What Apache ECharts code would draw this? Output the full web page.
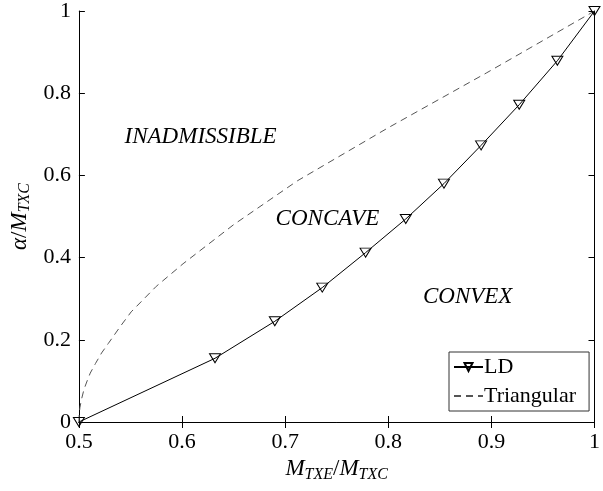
<!DOCTYPE html>
<html>
<head>
<meta charset="utf-8">
<script src="https://cdn.jsdelivr.net/npm/echarts@6/dist/echarts.min.js"></script>
<style>
html,body{margin:0;padding:0;background:#fff;}
#chart{width:603px;height:491px;}
</style>
</head>
<body>
<div id="chart"></div>
<script>
// LD series
var ldX = [0.5, 0.632, 0.690, 0.736, 0.778, 0.817, 0.854, 0.890, 0.927, 0.964, 1.0];
var ldY = [0.0, 0.155, 0.245, 0.327, 0.412, 0.494, 0.580, 0.673, 0.772, 0.879, 1.0];
// Triangular series
var triX = [0.5, 0.5003, 0.501, 0.5025, 0.505, 0.508, 0.511, 0.516, 0.522, 0.5285, 0.54, 0.5507, 0.575, 0.601, 0.65, 0.712, 0.80, 0.895, 1.0];
var triY = [0.0, 0.02, 0.035, 0.055, 0.08, 0.10, 0.119, 0.142, 0.168, 0.191, 0.232, 0.268, 0.33, 0.385, 0.48, 0.587, 0.716, 0.849, 1.0];
var xTicks = [0.5, 0.6, 0.7, 0.8, 0.9, 1];
var yTicks = [0, 0.2, 0.4, 0.6, 0.8, 1];
var regionLabels = ['INADMISSIBLE', 'CONCAVE', 'CONVEX'];
var seriesNames = ['LD', 'Triangular'];

function pairs(xs, ys){ return xs.map(function(x,i){ return [x, ys[i]]; }); }

var FONT = '"Liberation Serif", "Times New Roman", serif';
var chart = echarts.init(document.getElementById('chart'), null, {renderer:'canvas'});
var tickStyle = {show:true, inside:true, length:6, lineStyle:{color:'#000', width:1}};
var lineStyleAxis = {show:true, lineStyle:{color:'#000', width:1}};
var mathRich = {
  i:{fontFamily:FONT, fontStyle:'italic', fontSize:23, color:'#000'},
  n:{fontFamily:FONT, fontSize:23, color:'#000'},
  s:{fontFamily:FONT, fontStyle:'italic', fontSize:16, color:'#000', padding:[10,0,0,0]}
};
var option = {
  backgroundColor:'#fff',
  animation:false,
  textStyle:{fontFamily:FONT},
  grid:{left:73, right:3, top:9, bottom:69, containLabel:false},
  xAxis:[{
    type:'value', min:0.5, max:1, interval:0.1, position:'bottom',
    axisLine:lineStyleAxis, axisTick:tickStyle, splitLine:{show:false},
    axisLabel:{fontFamily:FONT, fontSize:22, color:'#000', margin:9,
      formatter:function(v){ return xTicks.indexOf(+v.toFixed(1))>=0 ? String(+v.toFixed(1)) : ''; }},
    name:'{i|M}{s|TXE}{n|/}{i|M}{s|TXC}', nameLocation:'middle', nameGap:33,
    nameTextStyle:{rich:mathRich}
  },{
    type:'value', min:0.5, max:1, interval:0.1, position:'top',
    axisLine:lineStyleAxis, axisTick:tickStyle, axisLabel:{show:false}, splitLine:{show:false}
  }],
  yAxis:[{
    type:'value', min:0, max:1, interval:0.2, position:'left',
    axisLine:lineStyleAxis, axisTick:tickStyle, splitLine:{show:false},
    axisLabel:{fontFamily:FONT, fontSize:22, color:'#000', margin:8,
      formatter:function(v){ return String(+v.toFixed(1)); }},
    name:'{i|α}{n|/}{i|M}{s|TXC}', nameLocation:'middle', nameGap:36, nameRotate:90,
    nameTextStyle:{rich:mathRich}
  },{
    type:'value', min:0, max:1, interval:0.2, position:'right',
    axisLine:lineStyleAxis, axisTick:tickStyle, axisLabel:{show:false}, splitLine:{show:false}
  }],
  legend:{
    left:449, top:352, orient:'vertical', itemWidth:29, itemHeight:10, itemGap:7,
    backgroundColor:'#fff', borderColor:'#333', borderWidth:1, padding:[4,13,4,4],
    textStyle:{fontFamily:FONT, fontSize:22, color:'#000', padding:[0,0,0,-4]},
    data:[{name:seriesNames[0]}, {name:seriesNames[1], itemStyle:{opacity:0}}]
  },
  series:[{
    name:seriesNames[0], type:'line', data:pairs(ldX, ldY),
    symbol:'triangle', symbolRotate:180, symbolSize:[11,9], showAllSymbol:true,
    lineStyle:{color:'#000', width:1},
    itemStyle:{color:'transparent', borderColor:'#000', borderWidth:1},
    z:3
  },{
    name:seriesNames[1], type:'line', data:pairs(triX, triY), smooth:false,
    symbol:'none', showSymbol:false, lineStyle:{color:'#555', width:1, type:[7,5]},
    itemStyle:{color:'#555'}, z:2
  }]
};
chart.setOption(option);
function place(){
  var p1 = chart.convertToPixel({gridIndex:0}, [0.618, 0.694]);
  var p2 = chart.convertToPixel({gridIndex:0}, [0.741, 0.494]);
  var p3 = chart.convertToPixel({gridIndex:0}, [0.877, 0.304]);
  var st = function(t){ return {text:t, fontFamily:FONT, fontStyle:'italic', fontSize:23, fill:'#000', textAlign:'center', textVerticalAlign:'middle'}; };
  chart.setOption({graphic:[
    {type:'text', x:p1[0], y:p1[1], style:st(regionLabels[0]), silent:true},
    {type:'text', x:p2[0], y:p2[1], style:st(regionLabels[1]), silent:true},
    {type:'text', x:p3[0], y:p3[1], style:st(regionLabels[2]), silent:true}
  ]});
}
place();
</script>
</body>
</html>
